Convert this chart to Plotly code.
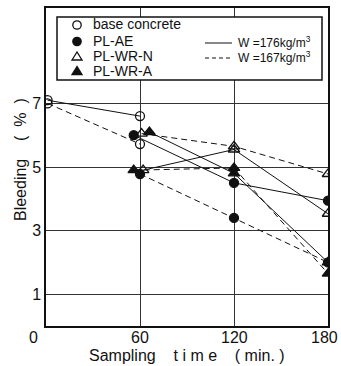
import plotly.graph_objects as go

# ---- data ----
time_base = [1, 60]
base_176 = [7.1, 6.6]
base_167 = [7.0, 5.72]

time_ae_176 = [56, 120, 180]
ae_176 = [6.0, 4.5, 3.94]
time_ae_167 = [60, 120, 180]
ae_167 = [4.78, 3.4, 2.0]

time_wrn_176 = [62, 120, 180]
wrn_176 = [4.9, 5.55, 3.53]
time_wrn_167 = [61, 120, 180]
wrn_167 = [6.05, 5.65, 4.78]

time_wra_176 = [66, 120, 180]
wra_176 = [6.1, 4.8, 2.0]
time_wra_167 = [56, 120, 180]
wra_167 = [4.9, 4.97, 1.65]

x_ticks = [0, 60, 120, 180]
x_tick_text = ["0", "60", "120", "180"]
y_ticks = [1, 3, 5, 7]
y_tick_text = ["1", "3", "5", "7"]

W, H = 341, 366
L, R, T, B = 46, 13, 8, 40
PW, PH = W - L - R, H - T - B


def px(x):
    return (x - L) / PW


def py(y):
    return (H - B - y) / PH


FONT = "Liberation Sans, Arial, sans-serif"
BLACK = "#111"
NB = "\u00a0"

fig = go.Figure()

series = [
    (time_base, base_176, "solid", "circle-open"),
    (time_base, base_167, "dash", "circle-open"),
    (time_ae_176, ae_176, "solid", "circle"),
    (time_ae_167, ae_167, "dash", "circle"),
    (time_wrn_176, wrn_176, "solid", "triangle-up-open"),
    (time_wrn_167, wrn_167, "dash", "triangle-up-open"),
    (time_wra_176, wra_176, "solid", "triangle-up"),
    (time_wra_167, wra_167, "dash", "triangle-up"),
]
for xs, ys, dash, sym in series:
    fig.add_trace(go.Scatter(
        x=xs, y=ys, mode="lines",
        line=dict(color=BLACK, width=1, dash="6px,4px" if dash == "dash" else "solid"),
        showlegend=False, hoverinfo="skip"))
for xs, ys, dash, sym in series:
    is_tri = "triangle" in sym
    fig.add_trace(go.Scatter(
        x=xs, y=ys, mode="markers",
        marker=dict(symbol=sym, size=10 if is_tri else 9, color=BLACK,
                    line=dict(color=BLACK, width=1.3)),
        showlegend=False, hoverinfo="skip"))

shapes = []
# legend box
shapes.append(dict(type="rect", xref="paper", yref="paper",
                   x0=px(57), x1=px(322), y0=py(80), y1=py(17),
                   line=dict(color=BLACK, width=1.5), fillcolor="white", layer="above"))
# legend symbols
r = 4.2
for cy, filled in [(25, False), (41.5, True)]:
    shapes.append(dict(type="circle", xref="paper", yref="paper",
                       x0=px(77 - r), x1=px(77 + r), y0=py(cy + r), y1=py(cy - r),
                       line=dict(color=BLACK, width=1.3),
                       fillcolor=BLACK if filled else "white", layer="above"))
for cy, filled in [(56.5, False), (71, True)]:
    path = "M {} {} L {} {} L {} {} Z".format(px(77), py(cy - 4.5), px(72), py(cy + 3.5), px(82), py(cy + 3.5))
    shapes.append(dict(type="path", xref="paper", yref="paper", path=path,
                       line=dict(color=BLACK, width=1.3),
                       fillcolor=BLACK if filled else "white", layer="above"))
# legend line samples
shapes.append(dict(type="line", xref="paper", yref="paper",
                   x0=px(205), x1=px(232), y0=py(43), y1=py(43),
                   line=dict(color=BLACK, width=1), layer="above"))
shapes.append(dict(type="line", xref="paper", yref="paper",
                   x0=px(205), x1=px(232), y0=py(58), y1=py(58),
                   line=dict(color=BLACK, width=1, dash="4px,3px"), layer="above"))

annotations = []
for cy, txt in [(24, "base concrete"), (40.5, "PL-AE"), (55.5, "PL-WR-N"), (70.5, "PL-WR-A")]:
    annotations.append(dict(xref="paper", yref="paper", x=px(91), y=py(cy), text=txt,
                            showarrow=False, xanchor="left", yanchor="middle",
                            font=dict(family=FONT, size=14, color=BLACK)))
for cy, txt in [(42, "W" + NB + "=176kg/m<sup>3</sup>"), (57, "W" + NB + "=167kg/m<sup>3</sup>")]:
    annotations.append(dict(xref="paper", yref="paper", x=px(236), y=py(cy), text=txt,
                            showarrow=False, xanchor="left", yanchor="middle",
                            font=dict(family=FONT, size=12, color=BLACK)))

# x tick labels drawn as annotations (the outer ones sit beyond the plot edges)
x_label_pos = {0: ("center", -13), 60: ("center", 0), 120: ("center", 0), 180: ("right", 12)}
for xv, xt in zip(x_ticks, x_tick_text):
    anc, sh = x_label_pos[xv]
    annotations.append(dict(xref="x", yref="paper", x=xv, y=py(337), text=xt,
                            showarrow=False, xanchor=anc, yanchor="middle",
                            xshift=sh,
                            font=dict(family=FONT, size=16, color=BLACK)))
# axis titles
annotations.append(dict(xref="paper", yref="paper", x=px(187), y=py(355),
                        text="Sampling" + NB * 4 + "t i m e" + NB * 4 + "(" + NB + "min." + NB + ")",
                        showarrow=False, xanchor="center", yanchor="middle",
                        font=dict(family=FONT, size=16, color=BLACK)))
annotations.append(dict(xref="paper", yref="paper", x=px(20), y=py(160),
                        text="Bleeding" + NB * 4 + "(" + NB * 2 + "%" + NB * 2 + ")",
                        textangle=-90,
                        showarrow=False, xanchor="center", yanchor="middle",
                        font=dict(family=FONT, size=16, color=BLACK)))

fig.update_layout(
    width=W, height=H,
    margin=dict(l=L, r=R, t=T, b=B, autoexpand=False),
    paper_bgcolor="white", plot_bgcolor="white",
    shapes=shapes, annotations=annotations,
    font=dict(family=FONT, color=BLACK),
    xaxis=dict(range=[0, 180], tickvals=x_ticks[1:3], showticklabels=False,
               showgrid=True, gridcolor="#333", gridwidth=1,
               showline=True, linecolor=BLACK, linewidth=1.5, mirror=True,
               ticks="", zeroline=False, automargin=False),
    yaxis=dict(range=[0, 10], tickvals=y_ticks, ticktext=y_tick_text,
               showgrid=True, gridcolor="#333", gridwidth=1,
               showline=True, linecolor=BLACK, linewidth=1.5, mirror=True,
               ticks="", zeroline=False, automargin=False,
               tickfont=dict(family=FONT, size=16, color=BLACK)),
)

fig.write_html("out.html")
